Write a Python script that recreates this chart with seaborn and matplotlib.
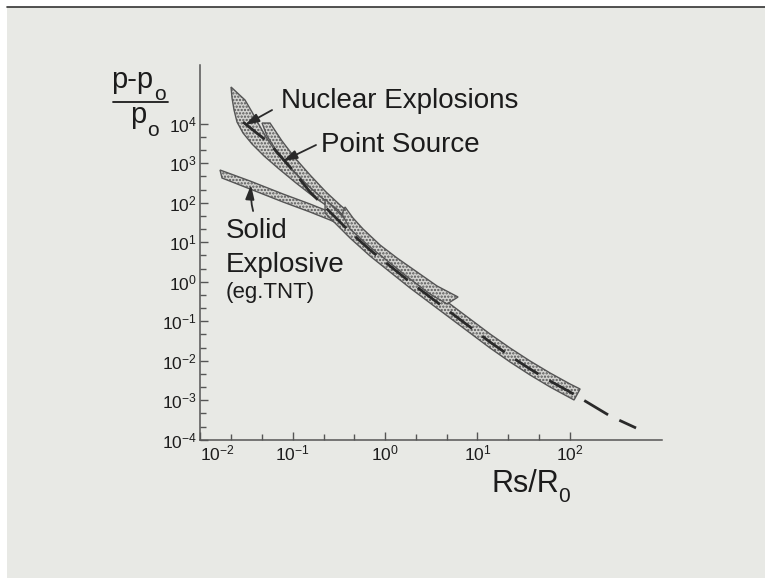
import matplotlib
matplotlib.use('Agg')
import matplotlib.pyplot as plt
import seaborn as sns
from matplotlib.patches import Rectangle
from matplotlib.lines import Line2D
from matplotlib.ticker import FixedLocator, FixedFormatter, NullFormatter

# %%
# DATA: values  (x = Rs/R0, y = (p-p0)/p0)
# =================================================================

# dashed centre curve
center_x = [0.0289, 0.054, 0.0935, 0.154, 0.2535, 0.4176, 0.688, 1.133, 1.866, 3.073,
            5.061, 8.334, 13.72, 22.61, 37.24, 61.35, 101.0, 166.3, 274.0, 524.1]
center_y = [11040, 3442, 801.4, 186.6, 58.16, 18.12, 6.347, 2.497, 0.9826, 0.41,
            0.1709, 0.0713, 0.0297, 0.01315, 0.00617, 0.00306, 0.00161, 0.000802, 0.000398, 0.000198]

# nuclear explosions band (outer edge, then inner edge, both from the tip)
nuclear_outer_x = [0.02145, 0.0220, 0.02312, 0.02491, 0.02894, 0.03622, 0.04888, 0.07106, 0.1086, 0.1701, 0.2535, 0.342]
nuclear_outer_y = [84950, 44730, 22230, 11040, 5816, 3063, 1522, 713.3, 315.3, 139.4, 73.4, 48.83]
nuclear_inner_x = [0.02145, 0.03041, 0.03622, 0.04208, 0.05136, 0.06593, 0.09348, 0.1359, 0.2077, 0.3096, 0.342]
nuclear_inner_y = [84950, 39810, 19780, 10410, 4606, 1920, 756.0, 315.3, 131.5, 65.35, 48.83]

# point source band
point_upper_x = [0.04648, 0.05676, 0.07656, 0.1059, 0.154, 0.2295, 0.3254, 0.3876]
point_upper_y = [10410, 10410, 3648, 1354, 502.7, 186.6, 87.47, 61.64]
point_lower_x = [0.04648, 0.05266, 0.06593, 0.08893, 0.1261, 0.1880, 0.2803, 0.3876]
point_lower_y = [10410, 4882, 2159, 900.4, 375.4, 156.6, 73.4, 40.99]

# solid explosive band
solid_upper_x = [0.0163, 0.03447, 0.0785, 0.154, 0.2535, 0.3974]
solid_upper_y = [672.7, 354.3, 166.1, 92.71, 58.16, 36.48]
solid_lower_x = [0.01714, 0.03447, 0.0785, 0.154, 0.2535, 0.3974]
solid_lower_y = [422.0, 222.3, 104.2, 58.16, 36.48, 22.88]

# flared band in the middle (upper edge, then back along its lower edge)
flare_upper_x = [0.3687, 0.4499, 0.5776, 0.8828, 1.349, 2.222, 3.660, 6.180]
flare_upper_y = [77.83, 40.99, 21.59, 8.495, 3.981, 1.760, 0.7785, 0.41]
flare_lower_x = [4.696, 3.073, 1.866, 1.133, 0.6879, 0.4176, 0.342]
flare_lower_y = [0.2725, 0.4883, 1.170, 2.975, 7.557, 21.59, 51.75]

# long lower band
lower_upper_x = [0.2239, 0.4176, 0.6879, 1.133, 1.866, 3.073, 5.061, 8.334, 13.72, 22.61, 37.24, 61.35, 101.0, 129.7]
lower_upper_y = [124.1, 28.89, 10.12, 3.981, 1.566, 0.6534, 0.2725, 0.1137, 0.04743, 0.02097, 0.009826, 0.004883, 0.002571, 0.001921]
lower_lower_x = [0.2239, 0.4176, 0.6879, 1.133, 1.866, 3.073, 5.061, 8.334, 13.72, 22.61, 37.24, 61.35, 111.6]
lower_lower_y = [54.85, 12.77, 4.473, 1.760, 0.6927, 0.2889, 0.1205, 0.05028, 0.02097, 0.009271, 0.004345, 0.002159, 0.001012]

x_ticks = [1e-2, 1e-1, 1e0, 1e1, 1e2]
x_tick_labels = [r'$10^{-2}$', r'$10^{-1}$', r'$10^{0}$', r'$10^{1}$', r'$10^{2}$']
y_ticks = [1e-4, 1e-3, 1e-2, 1e-1, 1e0, 1e1, 1e2, 1e3, 1e4]
y_tick_labels = [r'$10^{-4}$', r'$10^{-3}$', r'$10^{-2}$', r'$10^{-1}$', r'$10^{0}$',
                 r'$10^{1}$', r'$10^{2}$', r'$10^{3}$', r'$10^{4}$']

# %%
# STYLE
# =================================================================
sns.set_theme(style='ticks')
plt.rcParams['font.family'] = ['Liberation Sans', 'DejaVu Sans']
plt.rcParams['mathtext.fontset'] = 'custom'
plt.rcParams['mathtext.rm'] = 'Liberation Sans'
plt.rcParams['mathtext.it'] = 'Liberation Sans'
plt.rcParams['mathtext.bf'] = 'Liberation Sans:bold'
plt.rcParams['hatch.color'] = '#555555'
plt.rcParams['hatch.linewidth'] = 1.1

W, H = 765, 578
ink = '#1c1c1c'
axis_col = '#555555'
band_face = '#d3d3d0'
band_edge = '#555555'


def fxy(px, py):
    # pixel position -> figure fraction
    return px / W, 1 - py / H


fig = plt.figure(figsize=(W / 100, H / 100), dpi=100, facecolor='white')
fig.patches.append(Rectangle(fxy(7, H), 1 - 7 / W, 1 - 7 / H, transform=fig.transFigure,
                             facecolor='#e8e9e5', edgecolor='none', zorder=-10))
fig.lines.append(Line2D([7 / W, 1], [1 - 6.5 / H] * 2, transform=fig.transFigure, color='#333333', lw=1.2))

ax = fig.add_axes([0.2620, 0.2393, 0.6033, 0.6482])
ax.set_facecolor('none')
ax.set_xscale('log')
ax.set_yscale('log')

# %%
# BANDS AND CENTRE LINE
# =================================================================
bands = [
    (solid_upper_x + solid_lower_x[::-1], solid_upper_y + solid_lower_y[::-1]),
    (point_upper_x + point_lower_x[::-1], point_upper_y + point_lower_y[::-1]),
    (nuclear_outer_x + nuclear_inner_x[::-1], nuclear_outer_y + nuclear_inner_y[::-1]),
    (lower_upper_x + lower_lower_x[::-1], lower_upper_y + lower_lower_y[::-1]),
    (flare_upper_x + flare_lower_x, flare_upper_y + flare_lower_y),
]
for bx, by in bands:
    ax.fill(bx, by, facecolor=band_face, edgecolor=band_edge, hatch='.....', lw=1.0, zorder=2)

sns.lineplot(x=center_x, y=center_y, ax=ax, color='#2a2a2a', lw=2.0, sort=False,
             estimator=None, zorder=4)
ax.lines[-1].set_linestyle((0, (10, 4.5)))

# arrows from the labels
arrow_kw = dict(arrowstyle='-|>,head_length=0.7,head_width=0.22', color='#2a2a2a', lw=1.3,
                shrinkA=0, shrinkB=0)
ax.annotate('', xy=(0.0304, 9270), xytext=(0.0597, 22200), arrowprops=arrow_kw, zorder=5)
ax.annotate('', xy=(0.0785, 1137), xytext=(0.1787, 2890), arrowprops=arrow_kw, zorder=5)
ax.annotate('', xy=(0.0353, 281), xytext=(0.0372, 61.6),
            arrowprops=dict(arrow_kw, connectionstyle='arc3,rad=-0.08'), zorder=5)

# %%
# AXES
# =================================================================
ax.set_xlim(1e-2, 1e3)
ax.set_ylim(1e-4, 10 ** 5.486)
ax.xaxis.set_major_locator(FixedLocator(x_ticks))
ax.xaxis.set_major_formatter(FixedFormatter(x_tick_labels))
ax.xaxis.set_minor_locator(FixedLocator([10 ** (k + f) for k in range(-2, 2) for f in (1 / 3, 2 / 3)]))
ax.xaxis.set_minor_formatter(NullFormatter())
ax.yaxis.set_major_locator(FixedLocator(y_ticks))
ax.yaxis.set_major_formatter(FixedFormatter(y_tick_labels))
ax.yaxis.set_minor_locator(FixedLocator([10 ** (k + f) for k in range(-4, 4) for f in (1 / 3, 2 / 3)]))
ax.yaxis.set_minor_formatter(NullFormatter())

for side in ['top', 'right']:
    ax.spines[side].set_visible(False)
for side in ['left', 'bottom']:
    ax.spines[side].set_color(axis_col)
    ax.spines[side].set_linewidth(1.1)
ax.tick_params(which='both', direction='in', color=axis_col, width=1.0, labelsize=12.5,
               labelcolor=ink, pad=2.5)
ax.tick_params(which='major', length=6)
ax.tick_params(which='minor', length=4.5)
ax.grid(False)
# first x label sits to the right of its tick, clear of the 10^-4 label
ax.get_xticklabels()[0].set_horizontalalignment('left')

# %%
# TEXT
# =================================================================
fig.text(*fxy(281, 107.5), 'Nuclear Explosions', fontsize=20, color=ink, va='baseline')
fig.text(*fxy(321, 151.7), 'Point Source', fontsize=20, color=ink, va='baseline')
fig.text(*fxy(226, 238), 'Solid', fontsize=20, color=ink, va='baseline')
fig.text(*fxy(226, 271.7), 'Explosive', fontsize=20, color=ink, va='baseline')
fig.text(*fxy(226, 298), '(eg.TNT)', fontsize=16, color=ink, va='baseline')

# y label as a fraction  (p-p0)/p0, subscripts set low as in the original
fig.text(*fxy(111, 88), 'p-p', fontsize=21, color=ink, va='baseline')
fig.text(*fxy(154, 100), 'o', fontsize=15, color=ink, va='baseline')
fig.lines.append(Line2D([113 / W, 168 / W], [1 - 101.7 / H] * 2, transform=fig.transFigure, color=ink, lw=1.3))
fig.text(*fxy(130, 123), 'p', fontsize=21, color=ink, va='baseline')
fig.text(*fxy(147.5, 136), 'o', fontsize=15, color=ink, va='baseline')

# x label  Rs/R0
fig.text(*fxy(491, 492), 'Rs/R', fontsize=22, color=ink, va='baseline')
fig.text(*fxy(558, 502), '0', fontsize=15, color=ink, va='baseline')

fig.savefig('out.png', dpi=100, facecolor=fig.get_facecolor())
